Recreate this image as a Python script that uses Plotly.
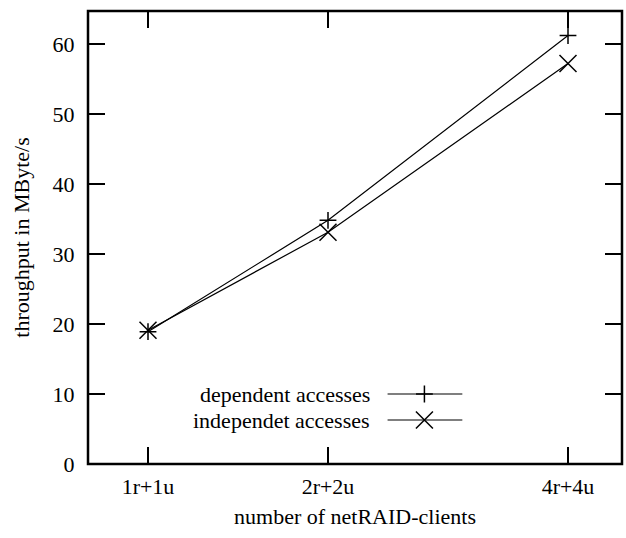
import plotly.graph_objects as go

categories = ["1r+1u", "2r+2u", "4r+4u"]
x_pos = [1, 4, 8]
dependent = [18.9, 34.8, 61.2]
independent = [19.1, 33.1, 57.2]
y_ticks = [0, 10, 20, 30, 40, 50, 60]

FONT = dict(family="Liberation Serif, Times New Roman, serif", size=22, color="black")

fig = go.Figure()
fig.add_trace(go.Scatter(x=x_pos, y=dependent, mode="lines+markers", name="dependent accesses",
                         line=dict(color="black", width=1.2),
                         marker=dict(symbol="cross-thin", size=12, line=dict(color="black", width=1.5)),
                         showlegend=False))
fig.add_trace(go.Scatter(x=x_pos, y=independent, mode="lines+markers", name="independet accesses",
                         line=dict(color="black", width=1.2),
                         marker=dict(symbol="x-thin", size=17, line=dict(color="black", width=1.5)),
                         showlegend=False))

# legend key drawn on an overlay axis in [0,1]
key_x = [0.561, 0.630, 0.701]
key_rows = [0.1545, 0.0971]
key_names = ["dependent accesses", "independet accesses"]
key_symbols = ["cross-thin", "x-thin"]
key_sizes = [12, 17]
for name, yk, sym, sz in zip(key_names, key_rows, key_symbols, key_sizes):
    fig.add_trace(go.Scatter(x=key_x, y=[yk] * 3, xaxis="x2", yaxis="y2", mode="lines",
                             line=dict(color="black", width=1.2), showlegend=False, hoverinfo="skip"))
    fig.add_trace(go.Scatter(x=[key_x[1]], y=[yk], xaxis="x2", yaxis="y2", mode="markers",
                             marker=dict(symbol=sym, size=sz, line=dict(color="black", width=1.5)),
                             showlegend=False, hoverinfo="skip"))
    fig.add_annotation(x=0.531, y=yk, xref="paper", yref="paper", text=name, showarrow=False,
                       xanchor="right", yanchor="middle", font=FONT)

# plot frame
fig.add_shape(type="rect", xref="paper", yref="paper", x0=0, x1=1, y0=0, y1=1,
              line=dict(color="black", width=2.5), layer="above")

axis_common = dict(showline=True, linecolor="rgba(0,0,0,0)", linewidth=1, mirror="allticks",
                   ticks="inside", ticklen=17, tickwidth=2, tickcolor="black",
                   showgrid=False, zeroline=False, tickfont=FONT)

fig.update_layout(
    width=626, height=538,
    margin=dict(l=88, r=4, t=11, b=74),
    paper_bgcolor="white", plot_bgcolor="white",
    font=FONT,
    xaxis=dict(range=[0, 8.9], tickvals=x_pos, ticktext=categories,
               title=dict(text="number of netRAID-clients", font=FONT, standoff=10),
               ticklabelstandoff=3, **axis_common),
    yaxis=dict(range=[0, 64.7], tickvals=y_ticks,
               title=dict(text="throughput in MByte/s", font=FONT, standoff=16),
               ticklabelstandoff=8, **axis_common),
    xaxis2=dict(range=[0, 1], overlaying="x", visible=False),
    yaxis2=dict(range=[0, 1], overlaying="y", visible=False),
)

fig.write_html("out.html", config={"displayModeBar": False},
               post_script="document.documentElement.style.overflow='hidden';document.body.style.margin='0';document.body.style.overflow='hidden';")
